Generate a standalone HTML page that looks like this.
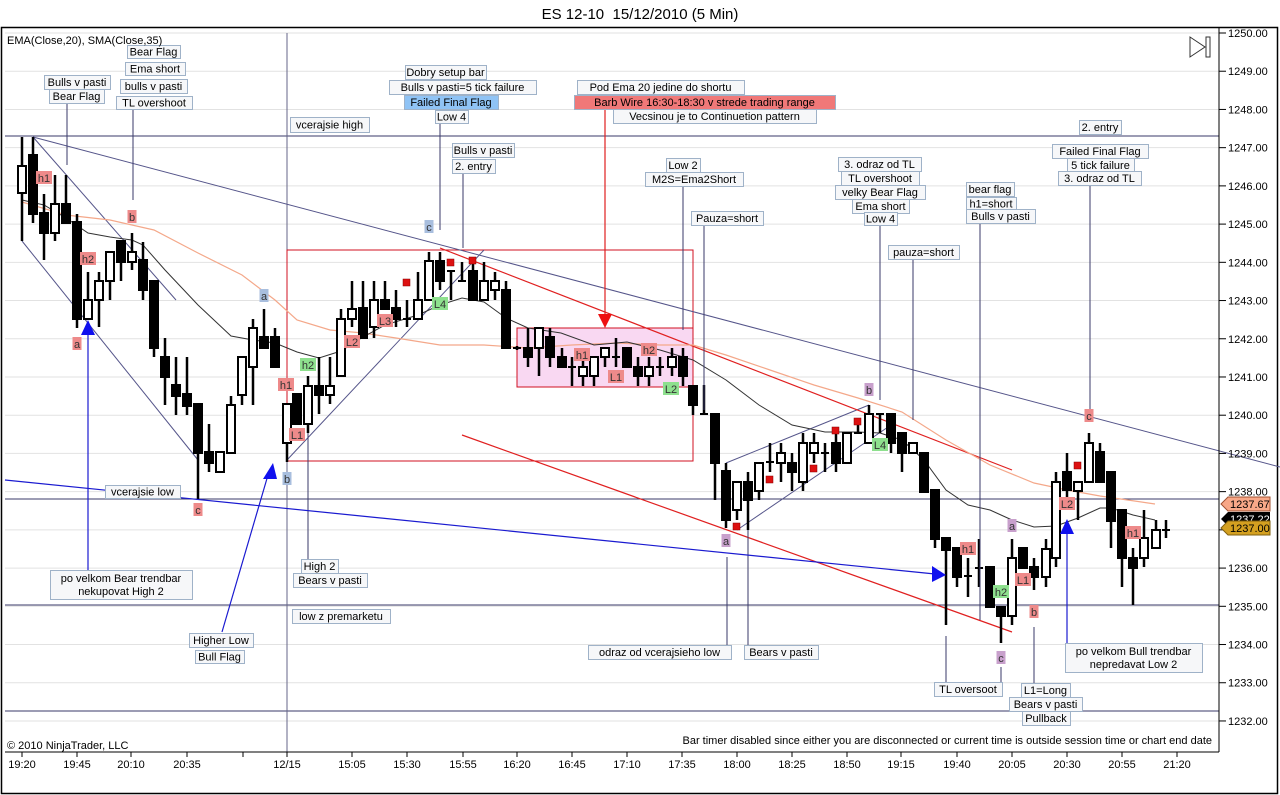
<!DOCTYPE html>
<html><head><meta charset="utf-8"><style>
body{margin:0;background:#fff;}
svg{display:block;font-family:"Liberation Sans",sans-serif;}
</style></head><body>
<svg id="s" width="1280" height="795" xmlns="http://www.w3.org/2000/svg">
<rect width="1280" height="795" fill="#fff"/>
<text x="640" y="19" font-size="15" text-anchor="middle">ES 12-10 &#160;15/12/2010 (5 Min)</text>
<rect x="1.5" y="27.5" width="1276" height="766" fill="none" stroke="#000" stroke-width="1.5"/>
<g id="grid"></g>
<g stroke="#3a3a6a" stroke-width="1">
<line x1="5" y1="136" x2="1219" y2="136"/>
<line x1="5" y1="499" x2="1219" y2="499"/>
<line x1="5" y1="605" x2="1219" y2="605"/>
<line x1="5" y1="711" x2="1219" y2="711"/>
<line x1="287" y1="33" x2="287" y2="752" stroke="#666688"/>
</g>
<rect x="287" y="250" width="406" height="211" fill="none" stroke="#d01020" stroke-width="1"/>
<rect x="517" y="328" width="176" height="59" fill="#f9d8f2" stroke="#d01020" stroke-width="1"/>
<g stroke="#55558a" stroke-width="1" fill="none">
<line x1="33" y1="137" x2="1280" y2="467"/>
<line x1="33" y1="137" x2="176" y2="300"/>
<line x1="22" y1="241" x2="198" y2="460"/>
<line x1="287" y1="460" x2="484" y2="250"/>
<line x1="726" y1="463" x2="869" y2="405"/>
<line x1="737" y1="530" x2="891" y2="425"/>
</g>
<g stroke="#e02020" stroke-width="1.2">
<line x1="440" y1="248" x2="1012" y2="470"/>
<line x1="462" y1="435" x2="1012" y2="632"/>
</g>
<polyline fill="none" stroke="#f4a88a" stroke-width="1.2" points="22,202 66,215 110,220 154,230 198,253 242,275 275,300 297,320 330,330 363,333 396,338 440,345 484,345 528,348 572,345 616,343 660,345 693,345 726,355 770,370 814,385 858,398 902,412 946,440 990,465 1034,483 1067,490 1100,496 1155,504"/>
<polyline fill="none" stroke="#333" stroke-width="1" points="22,200 44,205 66,218 88,233 110,237 132,240 143,245 165,270 198,305 231,336 253,340 275,343 297,352 319,358 341,351 363,337 385,325 418,315 440,305 462,298 484,302 506,318 528,328 561,333 594,345 627,342 660,350 693,360 726,380 759,405 792,425 825,432 858,432 880,433 902,440 924,460 946,490 968,505 990,510 1012,520 1034,527 1056,526 1078,518 1100,508 1111,508 1133,515 1155,520"/>
<g id="candles"></g>
<g fill="#dd1111" stroke="#880000" stroke-width="0.5">
<rect x="403" y="279" width="7" height="7"/><rect x="447" y="259" width="7" height="7"/><rect x="469" y="257" width="7" height="7"/>
<rect x="733" y="523" width="7" height="7"/><rect x="766" y="476" width="7" height="7"/><rect x="810" y="465" width="7" height="7"/>
<rect x="832" y="427" width="7" height="7"/><rect x="854" y="418" width="7" height="7"/><rect x="1074" y="462" width="7" height="7"/>
</g>
<g stroke="#3a3a6a" stroke-width="1">
<line x1="67" y1="103" x2="67" y2="165"/><line x1="133" y1="109" x2="133" y2="200"/>
<line x1="440" y1="123" x2="440" y2="230"/><line x1="463" y1="173" x2="463" y2="248"/>
<line x1="683" y1="186" x2="683" y2="330"/><line x1="704" y1="225" x2="704" y2="410"/>
<line x1="880" y1="225" x2="880" y2="400"/><line x1="913" y1="259" x2="913" y2="420"/>
<line x1="980" y1="223" x2="980" y2="620"/><line x1="1090" y1="185" x2="1090" y2="410"/>
<line x1="308" y1="433" x2="308" y2="559"/>
<line x1="727" y1="557" x2="727" y2="645"/><line x1="748" y1="530" x2="748" y2="645"/>
<line x1="946" y1="636" x2="946" y2="683"/><line x1="1001" y1="667" x2="1001" y2="683"/><line x1="1034" y1="627" x2="1034" y2="683"/>
</g>
<line x1="605" y1="109" x2="605" y2="318" stroke="#e02020" stroke-width="1.2"/>
<polygon points="598,314 612,314 605,328" fill="#ee1111"/>
<g stroke="#1a1ad0" stroke-width="1.2">
<line x1="88" y1="335" x2="88" y2="570"/>
<line x1="222" y1="632" x2="268" y2="475"/>
<line x1="5" y1="480" x2="935" y2="574"/>
<line x1="1067" y1="533" x2="1067" y2="643"/>
</g>
<g fill="#1010ee">
<polygon points="81,335 95,335 88,320"/>
<polygon points="263,479 277,479 273,463"/>
<polygon points="932,566 932,582 946,575"/>
<polygon points="1060,534 1074,534 1067,519"/>
</g>
<g id="marks" font-size="11" text-anchor="middle"></g>
<g id="labels" font-size="11" text-anchor="middle"></g>
<text x="7" y="44" font-size="11">EMA(Close,20), SMA(Close,35)</text>
<text x="7" y="749" font-size="11">© 2010 NinjaTrader, LLC</text>
<text x="1212" y="744" font-size="11" text-anchor="end">Bar timer disabled since either you are disconnected or current time is outside session time or chart end date</text>
<polygon points="1190,37 1190,57 1205,47" fill="none" stroke="#333"/>
<rect x="1206" y="37" width="4" height="20" fill="none" stroke="#333"/>
<line x1="1219" y1="28" x2="1219" y2="752" stroke="#000"/>
<line x1="5" y1="752" x2="1219" y2="752" stroke="#000"/>
<g id="yax" font-size="11"></g>
<g id="xax" font-size="11" text-anchor="middle"></g>
<polygon points="1221,504 1228,497 1270,497 1270,511 1228,511" fill="#f8a888" stroke="#a05030"/>
<text x="1230" y="508" font-size="11">1237.67</text>
<polygon points="1221,519 1228,512 1270,512 1270,526 1228,526" fill="#000"/>
<text x="1230" y="523" font-size="11" fill="#fff">1237.22</text>
<polygon points="1221,528 1228,521 1270,521 1270,535 1228,535" fill="#d4a020" stroke="#806010"/>
<text x="1230" y="532" font-size="11">1237.00</text>
</svg>
<script>
var NS="http://www.w3.org/2000/svg";
function el(p,t,a,txt){var e=document.createElementNS(NS,t);for(var k in a)e.setAttribute(k,a[k]);if(txt!=null)e.textContent=txt;document.getElementById(p).appendChild(e);return e;}
for(var i=0;i<=18;i++){var y=33+i*38.22;el('grid','line',{x1:5,y1:y,x2:1219,y2:y,stroke:'#e2e2e2'});
el('yax','line',{x1:1219,y1:y,x2:1226,y2:y,stroke:'#000'});el('yax','text',{x:1228,y:y+4},(1250-i).toFixed(2));}
var xt=[[22,'19:20'],[77,'19:45'],[131,'20:10'],[187,'20:35'],[243,''],[287,'12/15'],[352,'15:05'],[407,'15:30'],[463,'15:55'],[517,'16:20'],[572,'16:45'],[627,'17:10'],[682,'17:35'],[737,'18:00'],[792,'18:25'],[847,'18:50'],[901,'19:15'],[957,'19:40'],[1012,'20:05'],[1067,'20:30'],[1122,'20:55'],[1177,'21:20']];
xt.forEach(function(t){el('xax','line',{x1:t[0],y1:752,x2:t[0],y2:757,stroke:'#000'});if(t[1])el('xax','text',{x:t[0],y:768},t[1]);});
var C=[[22,166,193,137,241,0],[33,155,214,137,223,1],[44,213,233,194,260,1],[55,204,233,175,241,0],[66,204,223,175,223,1],[77,222,319,214,328,1],[88,300,319,272,319,0],[99,281,300,272,327,0],[110,252,281,252,300,0],[121,241,262,241,281,1],[132,252,262,233,270,0],[143,260,290,242,300,1],[154,281,348,281,357,1],[165,357,377,338,405,1],[176,385,396,357,415,1],[187,394,406,357,415,1],[198,404,453,404,500,1],[209,452,463,424,472,1],[220,452,472,452,472,0],[231,405,453,396,453,0],[242,357,395,357,405,0],[253,328,367,319,405,0],[264,337,348,309,348,1],[275,337,367,328,367,1],
[287,404,443,403,462,0],[297,394,424,394,424,1],[308,386,424,376,433,0],[319,386,395,357,414,1],[330,386,395,357,404,0],[341,319,376,309,376,0],[352,309,319,281,327,0],[363,308,338,281,338,1],[374,300,327,281,338,0],[385,300,309,281,309,1],[396,308,319,290,327,1],[407,319,319,300,327,2],[418,300,319,272,319,0],[429,261,300,252,300,0],[440,261,281,252,290,1],[451,271,271,271,300,2],[462,281,281,262,281,2],[473,271,300,262,300,1],[484,281,300,262,300,0],[495,281,290,272,300,0],[506,290,348,281,348,1],[517,348,348,346,350,2],[528,348,357,328,367,1],[539,328,348,328,376,0],[550,337,357,328,367,1],[562,357,367,348,367,1],[572,367,367,357,386,2],[583,367,376,357,386,0],[594,357,376,357,386,0],[605,348,357,348,367,0],[616,357,357,338,367,2],[627,348,367,348,367,1],[638,367,376,357,386,1],[649,367,376,357,386,0],[660,367,367,357,376,2],[672,357,367,348,376,0],[683,357,376,348,386,1],[693,386,405,386,415,1],
[704,414,414,385,414,2],[715,414,463,414,500,1],[726,471,520,463,528,1],[737,482,510,482,520,0],[748,482,500,472,530,1],[759,463,491,463,500,0],[770,462,462,443,472,2],[781,453,463,443,482,0],[792,463,472,453,491,1],[803,443,482,433,491,0],[814,443,453,433,463,0],[825,453,453,443,472,2],[836,443,463,433,472,1],[847,433,463,433,463,0],[858,433,433,423,433,2],[869,414,443,405,443,0],[880,414,414,414,433,2],[891,414,443,414,453,1],[902,433,453,433,472,1],[913,443,453,443,453,0],[924,453,492,453,492,1],[935,490,539,490,548,1],[946,538,550,538,625,1],[957,548,577,548,587,1],[968,576,576,558,597,2],[979,568,568,539,587,2],[990,567,607,567,607,1],[1001,607,616,607,643,1],[1012,558,616,539,625,0],[1023,548,568,548,568,1],[1034,567,577,558,590,1],[1046,549,577,539,587,0],[1056,482,558,472,567,0],[1067,472,490,453,500,1],[1078,482,491,482,520,0],[1089,443,482,433,482,0],[1100,452,482,443,482,1],[1111,472,521,472,548,1],[1122,510,558,510,587,1],[1133,558,568,548,605,1],[1144,538,558,510,567,0],[1156,530,548,520,548,0],[1166,530,530,520,538,2]];
C.forEach(function(c){var x=c[0];el('candles','line',{x1:x,y1:c[3],x2:x,y2:c[4],stroke:'#000','stroke-width':2.5});
if(c[5]==2){el('candles','line',{x1:x-4,y1:c[1],x2:x+4,y2:c[1],stroke:'#000','stroke-width':2});}
else{var h=Math.max(c[2]-c[1],2);el('candles','rect',{x:x-4,y:c[1],width:8,height:h,fill:c[5]?'#000':'#fff',stroke:'#000','stroke-width':2});}});
var M=[['h1',44,178,'r'],['h2',88,259,'r'],['a',77,344,'r'],['b',132,217,'r'],['c',198,510,'r'],['a',264,296,'b'],['b',287,479,'b'],['h1',286,385,'r'],['L1',297,435,'r'],['h2',308,365,'g'],['L2',352,342,'r'],['L3',385,321,'r'],['c',429,227,'b'],['L4',440,304,'g'],['h1',582,355,'r'],['L1',616,377,'r'],['h2',649,350,'r'],['L2',671,389,'g'],['a',726,541,'p'],['b',869,390,'p'],['L4',880,445,'g'],['h1',968,549,'r'],['h2',1001,592,'g'],['L1',1023,580,'r'],['a',1012,526,'p'],['b',1034,612,'r'],['c',1001,658,'p'],['L2',1067,504,'r'],['c',1089,416,'r'],['h1',1133,533,'r']];
var col={r:'#ee8a8a',b:'#a8bede',g:'#8ee08e',p:'#c8a0cc'};
M.forEach(function(m){var w=m[0].length>1?16:9;el('marks','rect',{x:m[1]-w/2,y:m[2]-7,width:w,height:13,fill:col[m[3]]});el('marks','text',{x:m[1],y:m[2]+4,fill:'#333'},m[0]);});
var L=[['Bear Flag',127,180,45,58],['Ema short',125,185,62,75],['bulls v pasti',120,187,79,93],['TL overshoot',116,192,96,109],['Bulls v pasti',44,110,75,89],['Bear Flag',49,104,89,103],['vcerajsie high',290,369,117,132],['Dobry setup bar',405,486,65,79],['Bulls v pasti=5 tick failure',389,536,80,94],['Failed Final Flag',404,498,95,109,'#8fc3f5'],['Low 4',435,468,110,123],['Bulls v pasti',452,514,143,157],['2. entry',452,495,159,173],
['Pod Ema 20 jedine do shortu',577,744,80,94],['Barb Wire 16:30-18:30 v strede trading range',574,835,95,109,'#f07878'],['Vecsinou je to Continuetion pattern',613,816,109,123],['2. entry',1079,1121,120,134],['Failed Final Flag',1052,1148,144,158],['5 tick failure',1067,1134,158,172],['3. odraz od TL',1058,1141,171,185],['Low 2',666,700,158,172],['M2S=Ema2Short',645,743,172,186],['Pauza=short',691,763,211,225],['3. odraz od TL',838,921,157,171],['TL overshoot',841,919,171,185],['velky Bear Flag',835,925,185,199],['Ema short',852,909,199,213],['Low 4',864,897,212,225],['bear flag',966,1014,182,196],['h1=short',966,1016,197,210],['Bulls v pasti',966,1035,209,223],['pauza=short',888,959,245,259],
['vcerajsie low',105,180,485,498],['High 2',301,338,559,573],['Bears v pasti',293,367,573,587],['low z premarketu',292,390,609,623],['Higher Low',189,253,633,647],['Bull Flag',195,244,650,663],['odraz od vcerajsieho low',588,731,645,659],['Bears v pasti',744,818,645,659],['TL oversoot',934,1002,682,696],['L1=Long',1021,1070,683,697],['Bears v pasti',1009,1082,697,711],['Pullback',1022,1070,711,725]];
L.forEach(function(l){el('labels','rect',{x:l[1]+.5,y:l[3]+.5,width:l[2]-l[1],height:l[4]-l[3],fill:l[5]||'#f6f7f9',stroke:'#9fb2c8'});el('labels','text',{x:(l[1]+l[2])/2,y:(l[3]+l[4])/2+4},l[0]);});
[[50,192,570,599,'po velkom Bear trendbar','nekupovat High 2'],[1065,1202,643,672,'po velkom Bull trendbar','nepredavat Low 2']].forEach(function(b){el('labels','rect',{x:b[0]+.5,y:b[2]+.5,width:b[1]-b[0],height:b[3]-b[2],fill:'#f6f7f9',stroke:'#9fb2c8'});var cx=(b[0]+b[1])/2;el('labels','text',{x:cx,y:b[2]+12},b[4]);el('labels','text',{x:cx,y:b[2]+25},b[5]);});
</script>
</body></html>
